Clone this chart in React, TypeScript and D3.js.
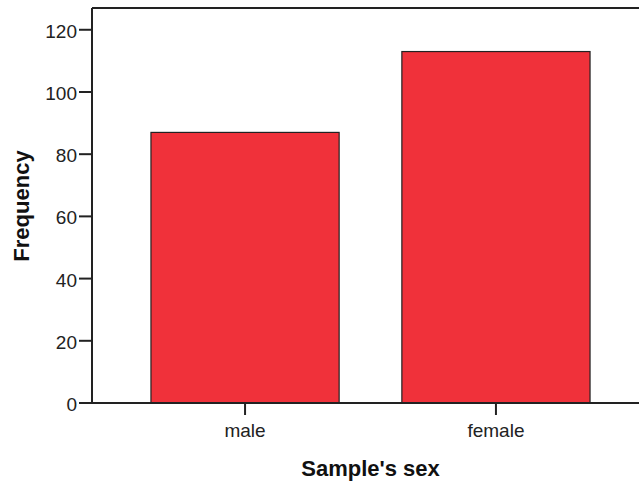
import React from "react";
import * as d3 from "d3";

const categories = ["male", "female"];
const frequencies = [87, 113];
const yTicks = [0, 20, 40, 60, 80, 100, 120];
const xTitle = "Sample's sex";
const yTitle = "Frequency";

export default function App() {
  const W = 639, H = 483;
  const left = 92, top = 8, bottom = 403, rightEnd = 649;
  const x = d3.scaleBand<string>().domain(categories).range([left, rightEnd]).paddingInner(0.25).paddingOuter(0.235);
  const y = d3.scaleLinear().domain([0, 127]).range([bottom, top]);
  const font = "Arial, 'Liberation Sans', sans-serif";
  return (
    <svg width={W} height={H} style={{ position: "absolute", left: 0, top: 0, background: "#fff" }}>
      <rect x={0} y={0} width={W} height={H} fill="#fff" />
      {categories.map((c, i) => (
        <rect key={c} x={x(c)} y={y(frequencies[i])} width={x.bandwidth()} height={bottom - y(frequencies[i])}
          fill="#f0313a" stroke="#222" strokeWidth={1.2} />
      ))}
      <line x1={left} x2={W} y1={top} y2={top} stroke="#222" strokeWidth={2} />
      <line x1={left} x2={left} y1={top} y2={bottom} stroke="#222" strokeWidth={2} />
      <line x1={left - 13} x2={W} y1={bottom} y2={bottom} stroke="#222" strokeWidth={2} />
      {yTicks.map((t) => (
        <g key={t}>
          <line x1={left - 13} x2={left} y1={y(t)} y2={y(t)} stroke="#222" strokeWidth={2} />
          <text x={left - 15} y={y(t)} dy="0.42em" textAnchor="end" fontFamily={font} fontSize={19} fill="#222">{t}</text>
        </g>
      ))}
      {categories.map((c) => (
        <g key={c}>
          <line x1={x(c)! + x.bandwidth() / 2} x2={x(c)! + x.bandwidth() / 2} y1={bottom} y2={bottom + 12} stroke="#222" strokeWidth={2} />
          <text x={x(c)! + x.bandwidth() / 2} y={437} textAnchor="middle" fontFamily={font} fontSize={19} fill="#222">{c}</text>
        </g>
      ))}
      <text x={(left + rightEnd) / 2} y={476} textAnchor="middle" fontFamily={font} fontSize={22} fontWeight="bold" fill="#111">{xTitle}</text>
      <text transform={`translate(29,206) rotate(-90)`} textAnchor="middle" fontFamily={font} fontSize={22} fontWeight="bold" fill="#111">{yTitle}</text>
    </svg>
  );
}
